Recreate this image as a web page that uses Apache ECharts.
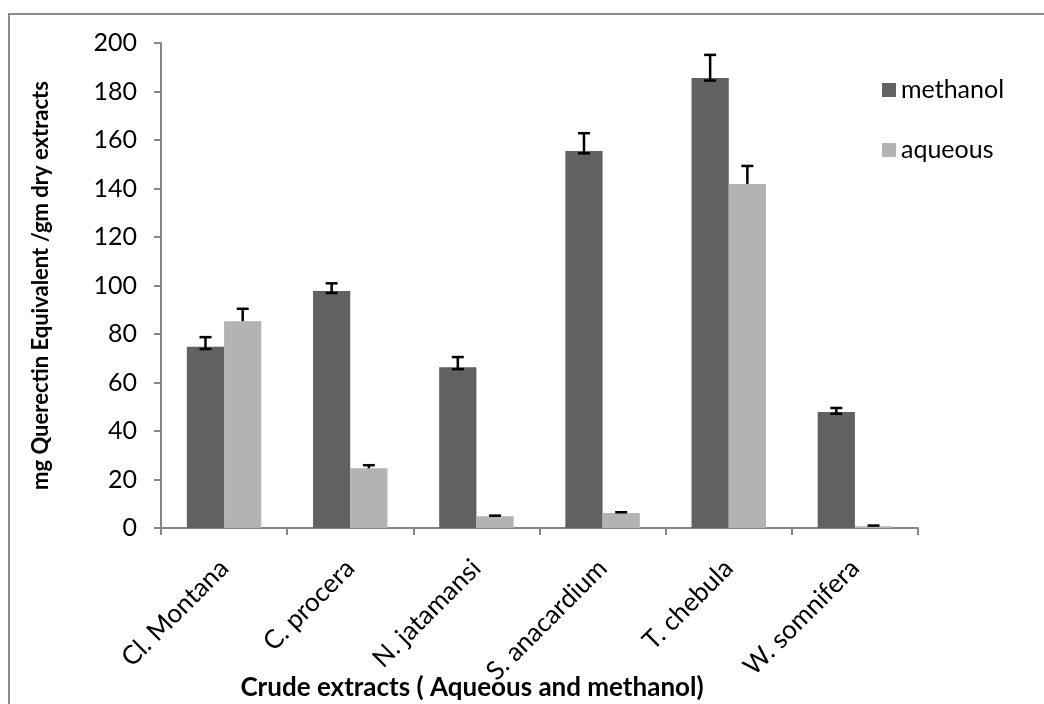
<!DOCTYPE html>
<html>
<head>
<meta charset="utf-8">
<script src="https://cdn.jsdelivr.net/npm/echarts@6/dist/echarts.min.js"></script>
<style>
html,body{margin:0;padding:0;background:#fff;}
#chart{width:1044px;height:704px;}
</style>
</head>
<body>
<div id="chart"></div>
<script>
const categories = ['Cl. Montana', 'C. procera', 'N. jatamansi', 'S. anacardium', 'T. chebula', 'W. somnifera'];
const methanol = [74.7, 97.7, 66.3, 155.5, 185.6, 47.8];
const methanolErrPlus = [4.0, 3.2, 4.2, 7.3, 9.5, 1.7];
const methanolErrMinus = [0.9, 0.8, 0.8, 1.0, 1.1, 0.7];
const aqueous = [85.3, 24.6, 4.8, 6.2, 141.9, 0.7];
const aqueousErrPlus = [5.1, 1.3, 0.3, 0.3, 7.4, 0.3];
const aqueousErrMinus = [0, 0, 0, 0, 0, 0];
const yMin = 0, yMax = 200, yStep = 20;

const FONT = 'Lato';
const CAT_GAP = 0.41;

function errRender(plus, minus, side) {
  return function (params, api) {
    const i = api.value(0);
    const v = api.value(1);
    const band = api.size([1, 0])[0];
    const bw = band * (1 - CAT_GAP) / 2;
    const cx = api.coord([i, v])[0] + side * bw / 2;
    const yTop = api.coord([i, v + plus[i]])[1];
    const yBot = api.coord([i, v - minus[i]])[1];
    const hw = 6;
    const st = { stroke: '#000', lineWidth: 2.5 };
    const children = [
      { type: 'line', shape: { x1: cx, y1: yTop, x2: cx, y2: yBot }, style: st },
      { type: 'line', shape: { x1: cx - hw, y1: yTop, x2: cx + hw, y2: yTop }, style: st }
    ];
    if (minus[i] > 0) {
      children.push({ type: 'line', shape: { x1: cx - hw, y1: yBot, x2: cx + hw, y2: yBot }, style: st });
    }
    return { type: 'group', children: children };
  };
}

const chart = echarts.init(document.getElementById('chart'), null, { renderer: 'canvas' });
chart.setOption({
  animation: false,
  backgroundColor: '#fff',
  textStyle: { fontFamily: FONT },
  graphic: [{
    type: 'rect', z: -10, silent: true,
    shape: { x: 9, y: 14, width: 1200, height: 900 },
    style: { fill: 'none', stroke: '#8a8a8a', lineWidth: 2 }
  }],
  grid: { left: 161, right: 126, top: 43, bottom: 176, containLabel: false, outerBoundsMode: 'none' },
  legend: {
    data: ['methanol', 'aqueous'],
    orient: 'vertical',
    left: 882, top: 75,
    padding: 0,
    itemWidth: 14, itemHeight: 14,
    itemGap: 30,
    icon: 'rect',
    textStyle: { fontFamily: FONT, fontSize: 25, color: '#000', lineHeight: 30 }
  },
  xAxis: {
    type: 'category',
    data: categories,
    boundaryGap: true,
    axisLine: { lineStyle: { color: '#868686', width: 2 } },
    axisTick: { show: true, length: 7, alignWithLabel: false, lineStyle: { color: '#868686', width: 2 } },
    axisLabel: { rotate: 45, margin: 36, fontSize: 26, color: '#000', fontFamily: FONT, interval: 0 },
    name: 'Crude extracts ( Aqueous and methanol)',
    nameLocation: 'middle',
    nameGap: 147,
    nameMoveOverlap: false,
    nameTextStyle: { fontSize: 26, fontWeight: 'bold', color: '#000', fontFamily: FONT, padding: [0, 135, 0, 0] }
  },
  yAxis: {
    type: 'value',
    min: yMin, max: yMax, interval: yStep,
    splitLine: { show: false },
    axisLine: { show: true, lineStyle: { color: '#868686', width: 2 } },
    axisTick: { show: true, length: 7, lineStyle: { color: '#868686', width: 2 } },
    axisLabel: { margin: 24, fontSize: 25, color: '#000', fontFamily: FONT },
    name: 'mg Querectin Equivalent /gm dry extracts',
    nameLocation: 'middle',
    nameGap: 109,
    nameRotate: 90,
    nameMoveOverlap: false,
    nameTextStyle: { fontSize: 22, fontWeight: 'bold', color: '#000', fontFamily: FONT }
  },
  series: [
    { name: 'methanol', type: 'bar', data: methanol, barGap: '0%', barCategoryGap: (CAT_GAP * 100) + '%', itemStyle: { color: '#616161' } },
    { name: 'aqueous', type: 'bar', data: aqueous, barGap: '0%', barCategoryGap: (CAT_GAP * 100) + '%', itemStyle: { color: '#b3b3b3' } },
    { name: 'methanolErr', type: 'custom', z: 10, renderItem: errRender(methanolErrPlus, methanolErrMinus, -1),
      data: methanol.map((v, i) => [i, v]), encode: { x: 0, y: 1 } },
    { name: 'aqueousErr', type: 'custom', z: 10, renderItem: errRender(aqueousErrPlus, aqueousErrMinus, 1),
      data: aqueous.map((v, i) => [i, v]), encode: { x: 0, y: 1 } }
  ]
});
</script>
</body>
</html>
